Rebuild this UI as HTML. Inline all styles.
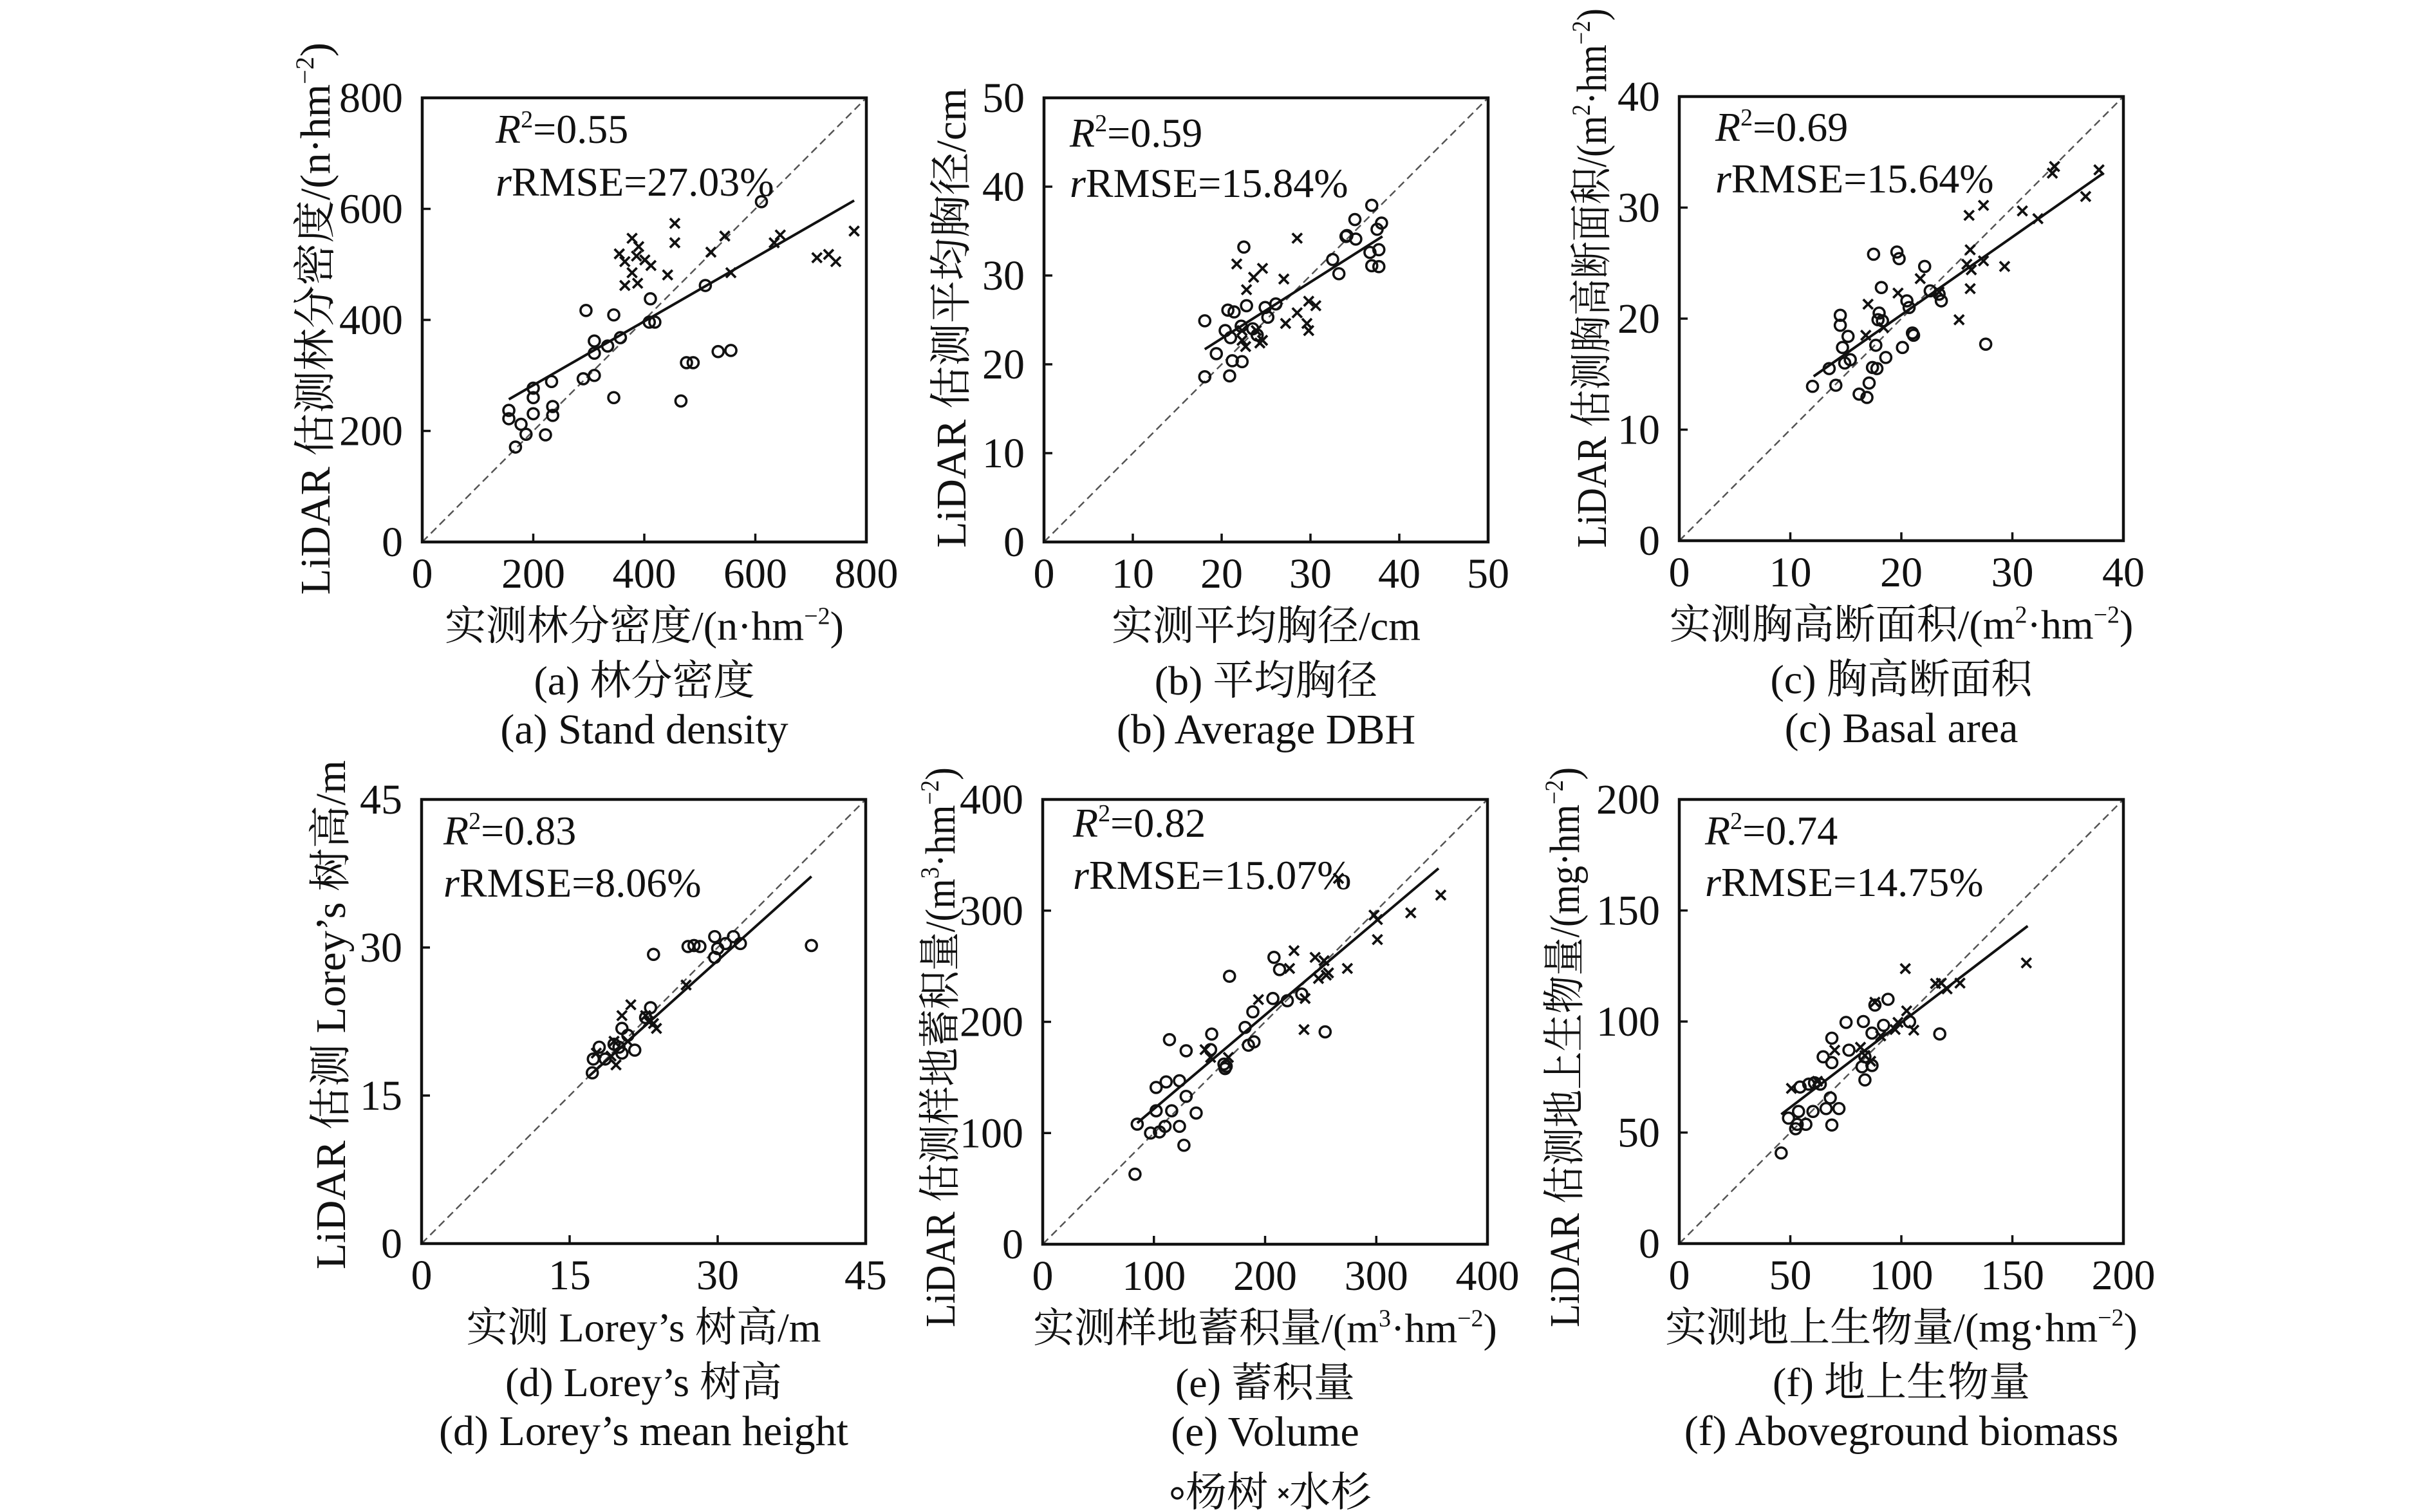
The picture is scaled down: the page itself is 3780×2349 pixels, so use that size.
<!DOCTYPE html>
<html><head><meta charset="utf-8">
<style>
html,body{margin:0;padding:0;background:#fff;}
svg{display:block;}
text{font-family:"Liberation Serif","Noto Serif CJK SC",serif;fill:#111;}
</style></head>
<body>
<svg id="fig" width="3780" height="2349" xmlns="http://www.w3.org/2000/svg"></svg>
<script>
// ---- data (observed x, estimated y) ----
const aTicks = [0,200,400,600,800];
const aPoplarX = [611,510,411,295,345,409,419,310,357,334,310,290,310,233,200,200,235,235,200,345,156,156,178,187,222,168,466,476,488,533,556];
const aPoplarY = [613,462,438,417,409,396,396,362,368,353,340,294,300,289,277,260,244,228,231,260,237,222,212,194,193,171,254,323,323,343,345];
const aFirX = [355,378,365,386,390,401,412,378,365,388,442,455,455,520,545,556,634,645,711,732,745,778];
const aFirY = [519,547,505,515,532,508,498,485,462,466,481,574,539,522,551,485,539,553,512,518,505,560];
const aFit = [156,257,778,615];

const bTicks = [0,10,20,30,40,50];
const bPoplarX = [36.9,35.0,38.0,37.5,34.1,35.1,34.0,37.7,36.7,36.9,37.7,32.5,33.2,22.5,20.7,21.4,22.8,24.9,26.1,25.2,18.1,20.4,21.0,22.2,23.5,19.4,21.2,22.3,18.1,20.9,24.0];
const bPoplarY = [37.9,36.3,35.9,35.2,34.5,34.1,34.4,32.9,32.6,31.1,31.0,31.8,30.2,33.2,26.1,25.9,26.6,26.4,26.8,25.3,24.9,23.8,23.0,24.3,24.0,21.2,20.4,20.3,18.6,18.7,23.3];
const bFirX = [21.7,24.6,23.6,22.8,27.0,28.5,29.8,30.6,28.5,27.2,29.6,29.8,24.6,24.3,22.7,22.3,23.9,22.3];
const bFirY = [31.3,30.8,29.8,28.4,29.6,34.2,27.1,26.6,25.8,24.6,24.6,23.8,22.7,22.4,22.0,23.8,23.8,22.7];
const bFit = [18.1,21.7,38.1,34.4];

const cTicks = [0,10,20,30,40];
const cPoplarX = [17.5,19.6,19.8,22.1,18.2,20.5,20.7,22.6,23.4,23.6,14.5,14.5,15.2,18.0,17.9,18.3,21.0,21.1,17.7,20.1,14.7,15.4,14.9,13.5,18.6,17.4,17.8,14.1,12.0,17.1,16.2,16.9,27.6];
const cPoplarY = [25.8,26.0,25.4,24.7,22.8,21.6,21.0,22.5,22.2,21.6,20.3,19.4,18.4,20.5,19.9,19.8,18.7,18.5,17.6,17.4,17.4,16.3,16.0,15.5,16.5,15.6,15.5,14.0,13.9,14.2,13.2,12.9,17.7];
const cFirX = [33.8,33.6,37.8,36.6,27.4,26.1,30.9,32.3,26.2,25.9,27.4,26.3,29.3,26.2,25.2,21.7,19.7,17.0,16.8,18.4,23.4];
const cFirY = [33.7,33.1,33.4,31.0,30.2,29.3,29.7,29.0,26.2,24.9,25.2,24.4,24.7,22.7,19.9,23.6,22.3,21.3,18.5,19.2,22.4];
const cFit = [12.1,14.8,38.2,33.1];

const dTicks = [0,15,30,45];
const dPoplarX = [23.5,27.0,27.6,28.2,29.7,31.6,32.3,30.8,29.7,30.0,39.5,23.2,22.7,20.3,20.9,18.0,21.6,19.5,20.3,17.4,17.3,18.6,20.0];
const dPoplarY = [29.3,30.1,30.2,30.1,31.1,31.1,30.4,30.4,29.0,29.9,30.2,23.9,22.9,21.8,21.1,19.9,19.6,20.2,19.3,18.7,17.3,18.7,19.9];
const dFirX = [26.8,21.2,20.3,23.8,23.5,22.7,19.5,19.7,17.7,19.2,20.9,23.0];
const dFirY = [26.2,24.2,23.1,21.8,22.3,23.1,20.5,18.1,19.3,19.0,20.5,22.5];
const dFit = [17.0,17.0,39.5,37.2];

const eTicks = [0,100,200,300,400];
const ePoplarX = [208,213,168,207,220,233,189,182,185,190,152,114,129,163,164,165,123,111,102,129,102,116,138,85,97,105,110,123,127,83,254,151];
const ePoplarY = [258,247,241,221,219,225,209,195,179,182,189,184,174,162,158,160,147,146,141,133,120,120,118,108,100,101,106,106,89,63,191,175];
const eFirX = [266,298,301,331,358,301,226,245,253,222,274,257,248,255,236,194,235,146,151,167];
const eFirY = [329,296,292,298,314,274,264,258,255,248,248,244,239,242,221,220,193,175,168,168];
const eFit = [85,109,356,338];

const fTicks = [0,50,100,150,200];
const fPoplarX = [94.0,88.1,75.1,82.9,92.0,86.8,103.7,117.3,68.7,76.4,64.8,68.7,83.6,82.3,83.6,68.0,66.1,71.9,60.2,53.7,49.2,53.1,57.0,52.4,68.7,45.9,63.5,60.9,58.3,54.4,86.8];
const fPoplarY = [110.0,107.4,99.6,100.0,98.3,94.8,99.9,94.4,92.5,87.1,84.1,81.5,84.1,79.6,73.7,65.6,60.8,60.8,59.5,59.5,56.5,53.7,53.7,51.7,53.4,40.8,71.8,72.4,71.8,70.5,80.2];
const fFirX = [156.3,101.8,115.4,120.6,118.0,126.4,102.4,98.5,105.6,97.2,90.7,81.6,86.2,83.6,50.5,62.2,70.0,88.1];
const fFirY = [126.4,123.8,117.1,114.7,117.3,117.3,104.8,99.6,96.1,96.4,93.5,88.4,82.1,84.7,69.9,73.1,87.1,108.7];
const fFit = [45.9,58.2,156.9,143.0];

const NS = 'http://www.w3.org/2000/svg';
const svg = document.getElementById('fig');
function mk(tag, attrs, parent){
  const e = document.createElementNS(NS, tag);
  for (const k in attrs) e.setAttribute(k, attrs[k]);
  (parent||svg).appendChild(e);
  return e;
}

const panels = [
  {id:'a', L:656, T:152, S:690, ticks:aTicks, px:aPoplarX, py:aPoplarY, fx:aFirX, fy:aFirY, fit:aFit, r2:'0.55', rm:'27.03%', ax:114, ay1:70, ay2:152,
   ylab:['LiDAR 估测林分密度/(n·hm','−2',')'], yb:512, ybot:924, ylen:858,
   xlab:['实测林分密度/(n·hm','−2',')'], cn:'(a) 林分密度', en:'(a) Stand density'},
  {id:'b', L:1622, T:152, S:690, ticks:bTicks, px:bPoplarX, py:bPoplarY, fx:bFirX, fy:bFirY, fit:bFit, r2:'0.59', rm:'15.84%', ax:40, ay1:76, ay2:154,
   ylab:['LiDAR 估测平均胸径/cm'], yb:1500, ybot:851, ylen:714,
   xlab:['实测平均胸径/cm'], cn:'(b) 平均胸径', en:'(b) Average DBH'},
  {id:'c', L:2609, T:150, S:690, ticks:cTicks, px:cPoplarX, py:cPoplarY, fx:cFirX, fy:cFirY, fit:cFit, r2:'0.69', rm:'15.64%', ax:56, ay1:69, ay2:149,
   ylab:['LiDAR 估测胸高断面积/(m','2','·hm','−2',')'], yb:2495, ybot:851, ylen:838,
   xlab:['实测胸高断面积/(m','2','·hm','−2',')'], cn:'(c) 胸高断面积', en:'(c) Basal area'},
  {id:'d', L:655, T:1242, S:690, ticks:dTicks, px:dPoplarX, py:dPoplarY, fx:dFirX, fy:dFirY, fit:dFit, r2:'0.83', rm:'8.06%', ax:34, ay1:70, ay2:151,
   ylab:['LiDAR 估测 Lorey’s 树高/m'], yb:536, ybot:1972, ylen:791,
   xlab:['实测 Lorey’s 树高/m'], cn:'(d) Lorey’s 树高', en:'(d) Lorey’s mean height'},
  {id:'e', L:1620, T:1242, S:691, ticks:eTicks, px:ePoplarX, py:ePoplarY, fx:eFirX, fy:eFirY, fit:eFit, r2:'0.82', rm:'15.07%', ax:47, ay1:58, ay2:139,
   ylab:['LiDAR 估测样地蓄积量/(m','3','·hm','−2',')'], yb:1483, ybot:2062, ylen:870,
   xlab:['实测样地蓄积量/(m','3','·hm','−2',')'], cn:'(e) 蓄积量', en:'(e) Volume'},
  {id:'f', L:2609, T:1242, S:690, ticks:fTicks, px:fPoplarX, py:fPoplarY, fx:fFirX, fy:fFirY, fit:fFit, r2:'0.74', rm:'14.75%', ax:40, ay1:70, ay2:150,
   ylab:['LiDAR 估测地上生物量/(mg·hm','−2',')'], yb:2453, ybot:2062, ylen:870,
   xlab:['实测地上生物量/(mg·hm','−2',')'], cn:'(f) 地上生物量', en:'(f) Aboveground biomass'}
];

function addParts(t, parts, fs){
  parts.forEach((p,i)=>{
    const ts = mk('tspan', {}, t);
    if (i%2===1){ ts.setAttribute('font-size', Math.round(fs*0.6)); ts.setAttribute('dy', -fs*0.38); }
    else if (i>0){ ts.setAttribute('dy', fs*0.38); }
    ts.textContent = p;
  });
}

panels.forEach(p=>{
  const max = p.ticks[p.ticks.length-1];
  const sx = v => p.L + v/max*p.S;
  const sy = v => p.T + p.S - v/max*p.S;
  const B = p.T + p.S;
  const g = mk('g', {});
  
  

  const ref = mk('line', {x1:sx(0), y1:sy(0), x2:sx(max), y2:sy(max), stroke:'#555', 'stroke-width':2.5, 'stroke-dasharray':'12 7'}, g);
  
  

  const fl = mk('line', {x1:sx(p.fit[0]), y1:sy(p.fit[1]), x2:sx(p.fit[2]), y2:sy(p.fit[3]), stroke:'#111', 'stroke-width':4}, g);
  
  

  p.px.forEach((v,i)=>{
    const c = mk('circle', {cx:sx(v), cy:sy(p.py[i]), r:8.5, fill:'none', stroke:'#111', 'stroke-width':3.6}, g);
    
    
  });
  p.fx.forEach((v,i)=>{
    const x = sx(v), y = sy(p.fy[i]), h = 7.5;
    const c = mk('path', {d:`M${x-h},${y-h}L${x+h},${y+h}M${x-h},${y+h}L${x+h},${y-h}`, stroke:'#111', 'stroke-width':3.8, fill:'none'}, g);
    
    
  });

  const fr = mk('rect', {x:p.L, y:p.T, width:p.S, height:p.S, fill:'none', stroke:'#111', 'stroke-width':4.5}, g);
  
  

  p.ticks.forEach(t=>{
    const x = sx(t), y = sy(t);
    if (t>0 && t<max){
      mk('line', {x1:x, y1:B, x2:x, y2:B-13, stroke:'#111', 'stroke-width':3.5}, g);
      mk('line', {x1:p.L, y1:y, x2:p.L+13, y2:y, stroke:'#111', 'stroke-width':3.5}, g);
    }
    const xt = mk('text', {x:x, y:B+71, 'font-size':66, 'text-anchor':'middle'}, g);
    
    
    xt.textContent = t;
    const yt = mk('text', {x:p.L-30, y:y+22, 'font-size':66, 'text-anchor':'end'}, g);
    
    
    yt.textContent = t;
  });

  const a1 = mk('text', {x:p.L+p.ax, y:p.T+p.ay1, 'font-size':64}, g);
  
  
  const r = mk('tspan', {'font-style':'italic'}, a1); r.textContent = 'R';
  const s2 = mk('tspan', {'font-size':38, dy:-24}, a1); s2.textContent = '2';
  const rest = mk('tspan', {dy:24}, a1); rest.textContent = '=' + p.r2;
  const a2 = mk('text', {x:p.L+p.ax, y:p.T+p.ay2, 'font-size':64}, g);
  
  
  const ri = mk('tspan', {'font-style':'italic'}, a2); ri.textContent = 'r';
  const rr = mk('tspan', {}, a2); rr.textContent = 'RMSE=' + p.rm;

  const cx = p.L + p.S/2;
  const xtl = mk('text', {x:cx, y:B+152, 'font-size':64, 'text-anchor':'middle'}, g);
  
  
  addParts(xtl, p.xlab, 64);
  const ytl = mk('text', {x:0, y:0, 'font-size':66, 'text-anchor':'start', textLength:p.ylen, lengthAdjust:'spacingAndGlyphs', transform:`translate(${p.yb},${p.ybot}) rotate(-90)`}, g);
  
  
  addParts(ytl, p.ylab, 66);

  const c1 = mk('text', {x:cx, y:B+237, 'font-size':64, 'text-anchor':'middle'}, g);
  
  
  c1.textContent = p.cn;
  const c2 = mk('text', {x:cx, y:B+313, 'font-size':66, 'text-anchor':'middle'}, g);
  
  
  c2.textContent = p.en;
});

const lg = mk('g', {});


const lc = mk('circle', {cx:1829, cy:2320, r:8, fill:'none', stroke:'#111', 'stroke-width':3.5}, lg);


const lt1 = mk('text', {x:1842, y:2340, 'font-size':64}, lg);


lt1.textContent = '杨树';
const lx = mk('path', {d:'M1987,2313L2001,2327M1987,2327L2001,2313', stroke:'#111', 'stroke-width':3.5}, lg);


const lt2 = mk('text', {x:2003, y:2340, 'font-size':64}, lg);


lt2.textContent = '水杉';
</script>
</body></html>
